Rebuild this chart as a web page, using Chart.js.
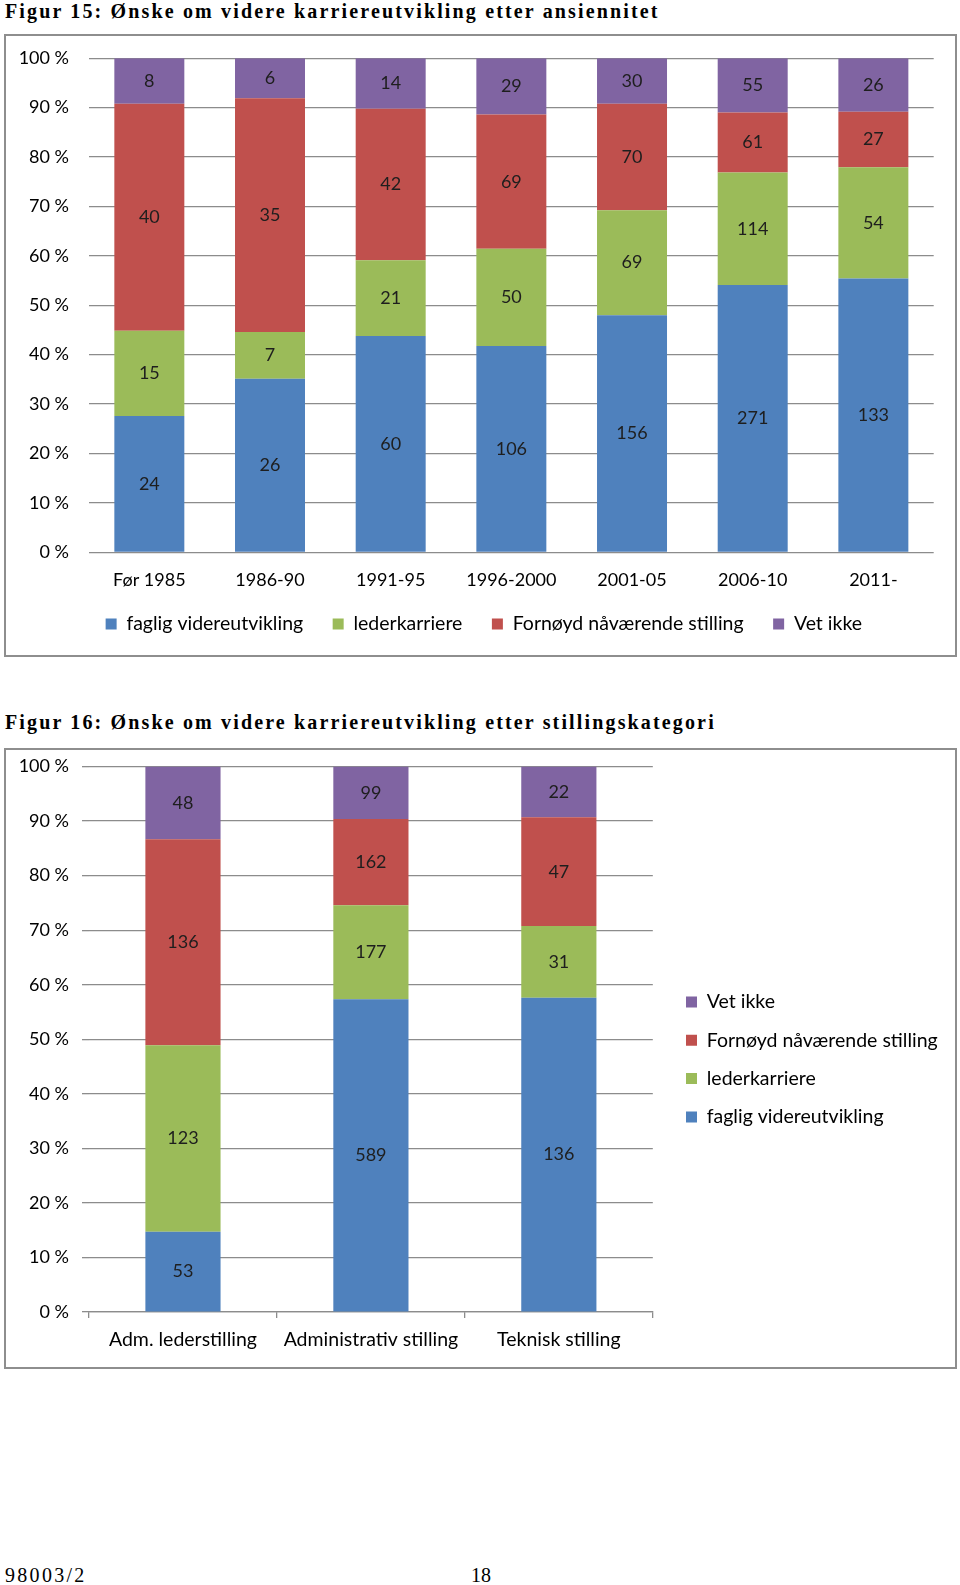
<!DOCTYPE html>
<html>
<head>
<meta charset="utf-8">
<script src="https://cdn.jsdelivr.net/npm/chart.js@4.4.0/dist/chart.umd.min.js"></script>
<style>
  body { margin: 0; background: #fff; width: 960px; height: 1585px; position: relative; overflow: hidden; }
  .title { position: absolute; left: 5px; font: bold 20px "Liberation Serif"; letter-spacing: 2.15px; line-height: 22px; white-space: nowrap; color: #000; }
  .box { position: absolute; left: 4px; width: 953px; border: 2px solid #8e8e8e; box-sizing: border-box; }
  canvas { position: absolute; left: 4px; }
  .foot { position: absolute; top: 1565px; font: 20px "Liberation Serif"; line-height: 20px; color: #000; }
</style>
</head>
<body>
<div class="title" style="top:0px">Figur 15: Ønske om videre karriereutvikling etter ansiennitet</div>
<div class="box" style="top:34px;height:623px"></div>
<canvas id="c1" width="953" height="623" style="top:34px"></canvas>

<div class="title" style="top:711px">Figur 16: Ønske om videre karriereutvikling etter stillingskategori</div>
<div class="box" style="top:748px;height:621px"></div>
<canvas id="c2" width="953" height="621" style="top:748px"></canvas>

<div class="foot" style="left:5px;letter-spacing:2.3px">98003/2</div>
<div class="foot" style="left:471px">18</div>

<script>
// Figur 15 - ansiennitet
const periods = ['Før 1985', '1986-90', '1991-95', '1996-2000', '2001-05', '2006-10', '2011-']
const faglig15 = [24, 26, 60, 106, 156, 271, 133]
const leder15 = [15, 7, 21, 50, 69, 114, 54]
const fornoyd15 = [40, 35, 42, 69, 70, 61, 27]
const vetIkke15 = [8, 6, 14, 29, 30, 55, 26]

// Figur 16 - stillingskategori
const stillinger = ['Adm. lederstilling', 'Administrativ stilling', 'Teknisk stilling']
const faglig16 = [53, 589, 136]
const leder16 = [123, 177, 31]
const fornoyd16 = [136, 162, 47]
const vetIkke16 = [48, 99, 22]

const yTicks = { min: 0, max: 100, step: 10 }

const colors = { faglig: '#4f81bd', leder: '#9bbb59', fornoyd: '#c0504d', vet: '#8064a2' }
const gridColor = '#8c8c8c'
const wordFont = { size: 19.5 }

Chart.defaults.font.family = 'Lato'
Chart.defaults.font.size = 18
Chart.defaults.color = '#000'

// share of each category in percent, the label keeps the count
function shares(series){
  const totals = series[0].map((_, i) => series.reduce((s, arr) => s + arr[i], 0))
  return series.map(arr => arr.map((v, i) => v / totals[i] * 100))
}

function makeSets(series){
  const names = ['faglig videreutvikling', 'lederkarriere', 'Fornøyd nåværende stilling', 'Vet ikke']
  const cols = [colors.faglig, colors.leder, colors.fornoyd, colors.vet]
  const pct = shares(series)
  return series.map((arr, k) => ({
    label: names[k],
    data: pct[k],
    counts: arr,
    backgroundColor: cols[k],
    borderWidth: 0,
  }))
}

const countLabels = {
  id: 'countLabels',
  afterDatasetsDraw(chart){
    const ctx = chart.ctx
    ctx.save()
    ctx.font = '18px Lato'
    ctx.fillStyle = '#1e1e1e'
    ctx.textAlign = 'center'
    ctx.textBaseline = 'middle'
    chart.data.datasets.forEach((ds, i) => {
      chart.getDatasetMeta(i).data.forEach((bar, j) => {
        const p = bar.getProps(['x', 'y', 'base'], true)
        ctx.fillText(ds.counts[j], p.x, (p.y + p.base) / 2)
      })
    })
    ctx.restore()
  }
}

// moves the legend to where the original has it
const nudgeLegend = {
  id: 'nudgeLegend',
  afterLayout(chart, args, o){
    const lg = chart.legend
    if (!lg) return
    if (o.x !== undefined){
      // right-hand column
      const pad = lg.options.labels.padding
      const dx = o.x - (lg.left + pad)
      const colH = lg.legendItems.length * (o.itemHeight + pad)
      const y0 = (lg.top + pad + lg.bottom - colH) / 2 + o.itemHeight / 2
      const dy = o.y - y0
      lg.left += dx
      lg.right = chart.width
      lg.top += dy; lg.bottom += dy
    } else {
      lg.left += o.dx || 0; lg.right += o.dx || 0
      lg.top += o.dy || 0; lg.bottom += o.dy || 0
    }
  }
}

function fitArea(chart, pad, t){
  for (let k = 0; k < 3; k++){
    const a = chart.chartArea
    pad.top += t.top - a.top
    pad.bottom += a.bottom - t.bottom
    pad.right += a.right - t.right
    chart.options.layout.padding = Object.assign({}, pad)
    chart.update('none')
  }
}

const yAxis = (extra) => Object.assign({
  stacked: true,
  min: yTicks.min,
  max: yTicks.max,
  border: { display: false },
  afterFit(s){ s.width = 85; s.paddingTop = 0; s.paddingBottom = 0 },
}, extra)

// chart 1
const pad1 = { top: 24, right: 23, bottom: 10, left: 0 }
const chart1 = new Chart(document.getElementById('c1'), {
  type: 'bar',
  data: { labels: periods, datasets: makeSets([faglig15, leder15, fornoyd15, vetIkke15]) },
  options: {
    responsive: false,
    animation: false,
    layout: { padding: Object.assign({}, pad1) },
    datasets: { bar: { barPercentage: 0.58, categoryPercentage: 1 } },
    scales: {
      x: {
        stacked: true,
        grid: { display: false, drawTicks: false },
        border: { display: false },
        ticks: { padding: 17.5 },
        afterFit(s){ s.height = 42 },
      },
      y: yAxis({
        ticks: { stepSize: yTicks.step, padding: 20, callback: v => v + ' %' },
        grid: { color: gridColor, lineWidth: 1.3, drawTicks: false },
      }),
    },
    plugins: {
      legend: { position: 'bottom', labels: { boxWidth: 11, boxHeight: 11, padding: 29.5, font: wordFont } },
      tooltip: { enabled: false },
      nudgeLegend: { dx: 15, dy: -9.5 },
    },
  },
  plugins: [countLabels, nudgeLegend],
})
fitArea(chart1, pad1, { top: 24.2, bottom: 518.3, right: 929.7 })

// chart 2
const pad2 = { top: 18, right: 20, bottom: 10, left: 0 }
const chart2 = new Chart(document.getElementById('c2'), {
  type: 'bar',
  data: { labels: stillinger, datasets: makeSets([faglig16, leder16, fornoyd16, vetIkke16]) },
  options: {
    responsive: false,
    animation: false,
    layout: { padding: Object.assign({}, pad2) },
    datasets: { bar: { barPercentage: 0.4, categoryPercentage: 1 } },
    scales: {
      x: {
        stacked: true,
        grid: { display: true, drawOnChartArea: false, drawTicks: true, tickLength: 6, color: gridColor, lineWidth: 1.3, offset: true },
        border: { display: true, color: gridColor, width: 1.3 },
        ticks: { padding: 10, font: wordFont },
      },
      y: yAxis({
        ticks: { stepSize: yTicks.step, padding: 13, callback: v => v + ' %' },
        grid: { color: gridColor, lineWidth: 1.3, drawTicks: true, tickLength: 7 },
      }),
    },
    plugins: {
      legend: { position: 'right', reverse: true, labels: { boxWidth: 11, boxHeight: 11, padding: 18.8, font: wordFont } },
      tooltip: { enabled: false },
      nudgeLegend: { x: 682, y: 254, itemHeight: 19.5 },
    },
  },
  plugins: [countLabels, nudgeLegend],
})
fitArea(chart2, pad2, { top: 18.5, bottom: 564.1, right: 648 })
</script>
</body>
</html>
